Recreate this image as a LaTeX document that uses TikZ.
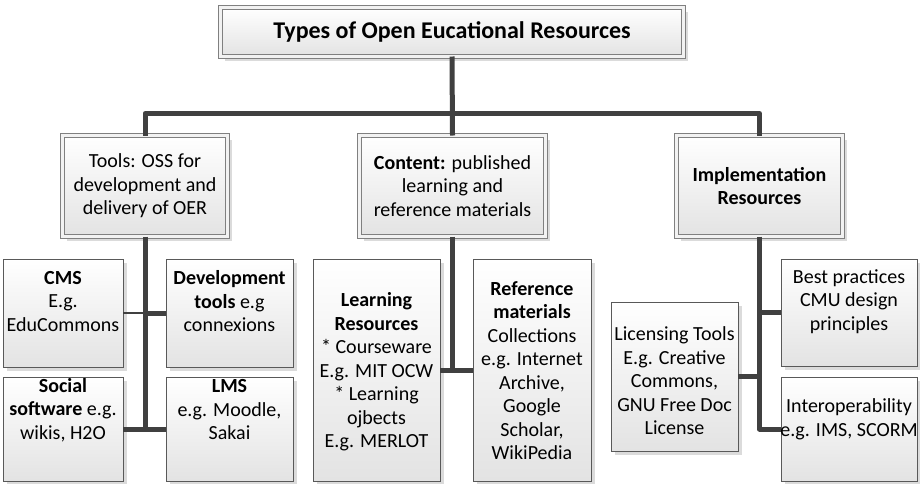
\documentclass[tikz,border=0pt]{standalone}
\usepackage{fontspec}
\setmainfont{Carlito}
\usetikzlibrary{shadows,calc}
\definecolor{linec}{HTML}{404040}
\tikzset{
  bus/.style={draw=linec, line width=5pt, line join=round},
  thinbus/.style={draw=linec, line width=2pt},
  boxbase/.style={inner sep=0pt, outer sep=0pt, top color=white, bottom color=black!11,
    general shadow={fill=black!14, shadow xshift=4pt, shadow yshift=-4pt}},
  leaf/.style={boxbase, draw=black!65, line width=0.8pt},
  lvtwo/.style={boxbase, draw=black!50, line width=0.8pt, double=black!5, double distance=3pt},
  txt/.style={align=center, inner sep=0pt, font=\fontsize{20}{23.5}\selectfont},
  ttl/.style={align=center, inner sep=0pt, font=\fontsize{24}{28}\selectfont\bfseries}
}
\begin{document}
\begin{tikzpicture}[x=1pt,y=-1pt]
\useasboundingbox (0,0) rectangle (920,483);

% level 1
\node[lvtwo, minimum width=463pt, minimum height=49pt] (top) at (452,32) {};
\node[ttl] (topT) at (top) {Types of Open Eucational Resources};

% level 2
\node[lvtwo, minimum width=165pt, minimum height=101pt] (tools) at (145,186) {};
\node[txt] (toolsT) at (tools) {Tools: OSS for\\development and\\delivery of OER};
\node[lvtwo, minimum width=186pt, minimum height=101pt] (content) at (452.5,186) {};
\node[txt] (contentT) at (content) {\textbf{Content:} published\\learning and\\reference materials};
\node[lvtwo, minimum width=166pt, minimum height=101pt] (impl) at (759.5,186) {};
\node[txt] (implT) at (impl) {\textbf{Implementation}\\\textbf{Resources}};

% level 3 - tools
\node[leaf, minimum width=120pt, minimum height=108pt] (cms) at (63,313) {};
\node[txt] (cmsT) at (63,301.5) {\textbf{CMS}\\E.g.\\EduCommons};
\node[leaf, minimum width=127pt, minimum height=108pt] (dev) at (229.5,313) {};
\node[txt] (devT) at (229.5,301.5) {\textbf{Development}\\\textbf{tools} e.g\\connexions};
\node[leaf, minimum width=120pt, minimum height=104pt] (social) at (63,429) {};
\node[txt] (socialT) at (63,410) {\textbf{Social}\\\textbf{software} e.g.\\wikis, H2O};
\node[leaf, minimum width=127pt, minimum height=104pt] (lms) at (229.5,429) {};
\node[txt] (lmsT) at (229.5,410) {\textbf{LMS}\\e.g. Moodle,\\Sakai};

% level 3 - content
\node[leaf, minimum width=127pt, minimum height=222pt] (learn) at (376.5,370) {};
\node[txt] (learnT) at (376.5,372) {\textbf{Learning}\\\textbf{Resources}\\* Courseware\\E.g. MIT OCW\\* Learning\\ojbects\\E.g. MERLOT};
\node[leaf, minimum width=118pt, minimum height=222pt] (refm) at (532,370) {};
\node[txt] (refmT) at (532,370.5) {\textbf{Reference}\\\textbf{materials}\\Collections\\e.g. Internet\\Archive,\\Google\\Scholar,\\WikiPedia};

% level 3 - implementation
\node[leaf, minimum width=127pt, minimum height=149pt] (lic) at (674.5,376.5) {};
\node[txt] (licT) at (674.5,381) {Licensing Tools\\E.g. Creative\\Commons,\\GNU Free Doc\\License};
\node[leaf, minimum width=136pt, minimum height=107pt] (best) at (849,312.5) {};
\node[txt] (bestT) at (849,301.5) {Best practices\\CMU design\\principles};
\node[leaf, minimum width=136pt, minimum height=104pt] (inter) at (849,429) {};
\node[txt] (interT) at (849,419.5) {Interoperability\\e.g. IMS, SCORM};

% connectors
\draw[bus] (top.south) -- (content.north);
\draw[bus] (tools.north) -- ++(0,-22) -| (impl.north);

\draw[bus] (tools.south) -- (tools.south |- social.east);
\draw[thinbus] (cms.east) -- (cms.east -| tools.south);
\draw[bus] (dev.west -| tools.south) -- (dev.west);
\draw[bus] (social.east) -- (lms.west);

\draw[bus] (content.south) -- ++(0,134) coordinate (jc);
\draw[bus] (learn.east |- jc) -- (refm.west |- jc);

\draw[bus] (impl.south) |- (inter.west);
\draw[bus] (best.west -| impl.south) -- (best.west);
\draw[bus] (lic.east) -- (lic.east -| impl.south);
\end{tikzpicture}
\end{document}
